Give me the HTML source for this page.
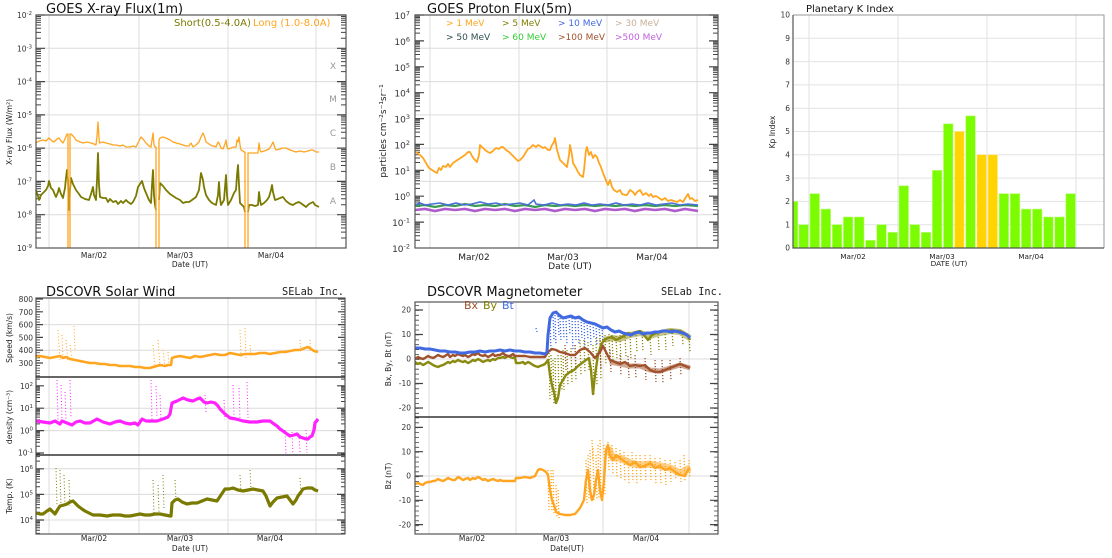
<!DOCTYPE html>
<html><head><meta charset="utf-8"><style>
html,body{margin:0;padding:0;background:#fff;}
svg{display:block;font-family:"DejaVu Sans","Liberation Sans",sans-serif;}
</style></head><body>
<svg width="1112" height="558" viewBox="0 0 1112 558" xmlns="http://www.w3.org/2000/svg">
<defs>
<g id="xd" stroke="#444" stroke-width="1"><path d="M36 -10h5M36 -15.9h5M36 -20h5M36 -23.3h5M36 -25.9h5M36 -28.1h5M36 -30.1h5M36 -31.8h5M346 -10h-5M346 -15.9h-5M346 -20h-5M346 -23.3h-5M346 -25.9h-5M346 -28.1h-5M346 -30.1h-5M346 -31.8h-5"/></g>
<g id="pd" stroke="#444" stroke-width="1"><path d="M415 -7.8h5M415 -12.3h5M415 -15.6h5M415 -18.1h5M415 -20.1h5M415 -21.9h5M415 -23.4h5M415 -24.7h5M718 -7.8h-5M718 -12.3h-5M718 -15.6h-5M718 -18.1h-5M718 -20.1h-5M718 -21.9h-5M718 -23.4h-5M718 -24.7h-5"/></g>
<g id="dd" stroke="#444" stroke-width="1"><path d="M36 -6.7h4M36 -10.7h4M36 -13.5h4M36 -15.7h4M36 -17.4h4M36 -18.9h4M36 -20.2h4M36 -21.4h4M345 -6.7h-4M345 -10.7h-4M345 -13.5h-4M345 -15.7h-4M345 -17.4h-4M345 -18.9h-4M345 -20.2h-4M345 -21.4h-4"/></g>
<g id="td" stroke="#444" stroke-width="1"><path d="M36 -7.7h4M36 -12.2h4M36 -15.4h4M36 -17.9h4M36 -19.9h4M36 -21.6h4M36 -23.1h4M36 -24.4h4M345 -7.7h-4M345 -12.2h-4M345 -15.4h-4M345 -17.9h-4M345 -19.9h-4M345 -21.6h-4M345 -23.1h-4M345 -24.4h-4"/></g>
<clipPath id="cpX"><rect x="36" y="15" width="310" height="233"/></clipPath>
<clipPath id="cpP"><rect x="415" y="15" width="303" height="233"/></clipPath>
<clipPath id="cpD"><rect x="36" y="377" width="309" height="78"/></clipPath>
<clipPath id="cpT"><rect x="36" y="455" width="309" height="79"/></clipPath>
</defs>

<!-- ================= GOES X-ray ================= -->
<g stroke="#dcdcdc" stroke-width="1" fill="none">
<path d="M49 15V248M139 15V248M228 15V248M316 15V248"/>
<path d="M36 48.3H346M36 81.6H346M36 114.9H346M36 148.1H346M36 181.4H346M36 214.7H346"/>
</g>
<g clip-path="url(#cpX)">
<use href="#xd" y="248"/><use href="#xd" y="214.7"/><use href="#xd" y="181.4"/><use href="#xd" y="148.1"/><use href="#xd" y="114.9"/><use href="#xd" y="81.6"/><use href="#xd" y="48.3"/>
</g>
<path d="M36 15h9M36 48.3h9M36 81.6h9M36 114.9h9M36 148.1h9M36 181.4h9M36 214.7h9M346 15h-9M346 48.3h-9M346 81.6h-9M346 114.9h-9M346 148.1h-9M346 181.4h-9M346 214.7h-9" stroke="#444" stroke-width="1.2"/>
<path fill="none" stroke="#7a7a00" stroke-width="1.8" stroke-linejoin="round" d="M36 190 L38 196 L39 200 L41 195 L44 192 L46 190 L48 186 L49 181 L51 188 L53 190 L55 195 L56 197 L58 192 L59 188 L61 194 L63 198 L65 188 L66 178 L67 170 L68 180 L69 210 L70 190 L71 178 L73 184 L76 190 L79 194 L81 197 L85 199 L89 200 L91 194 L93 187 L94 195 L96 200 L97 180 L98 153 L99 185 L100 197 L103 198 L106 198 L108 202 L110 199 L113 202 L116 201 L118 204 L121 201 L123 203 L126 200 L128 202 L131 204 L133 202 L136 196 L138 187 L140 184 L142 181 L144 188 L146 193 L149 200 L151 203 L152 185 L153 170 L154 195 L155 205 L156 210 M159 200 L160 183 L163 186 L166 190 L170 194 L173 196 L176 198 L180 200 L183 203 L186 202 L189 202 L192 200 L196 197 L199 190 L201 173 L203 180 L204 187 L206 195 L209 200 L212 203 L216 205 L218 195 L219 182 L220 198 L221 205 L224 200 L226 175 L227 195 L228 205 L231 200 L234 193 L236 190 L237 175 L238 165 L239 185 L240 203 L242 205 L244 207 L245 212 M248 212 L249 205 L252 205 L255 206 L258 205 L259 192 L260 200 L261 205 L264 203 L267 200 L269 197 L271 190 L272 185 L273 192 L275 200 L278 199 L280 198 L283 197 L286 201 L290 204 L293 205 L296 203 L299 202 L302 204 L306 207 L309 204 L311 203 L313 202 L315 205 L317 206 L319 207"/>
<path fill="none" stroke="#ffa520" stroke-width="1.3" stroke-linejoin="round" d="M36 143 L39 141 L43 140 L46 141 L49 138 L52 141 L54 142 L57 139 L59 138 L61 141 L63 143 L65 139 L67 134 L68 134 L68 248 M70 248 L70 134 L71 134 L74 137 L76 140 L80 142 L83 143 L87 142 L91 143 L94 144 L96 145 L97 136 L98 122 L99 138 L99.5 143 L103 142 L106 143 L110 144 L113 145 L116 145 L120 146 L123 145 L126 147 L130 147 L133 146 L136 147 L138 143 L141 137 L143 139 L146 143 L149 146 L151 147 L152 140 L153 133 L154 145 L155 147 L156 147 L156 248 M159 248 L159 140 L160 138 L163 137 L166 138 L170 140 L173 142 L176 143 L180 144 L183 145 L186 146 L189 146 L191 143 L193 147 L196 145 L199 142 L201 137 L203 133 L205 138 L206 142 L209 144 L212 146 L214 146 L216 147 L218 142 L219 143 L221 148 L223 149 L225 144 L226 140 L227 147 L228 149 L231 148 L234 147 L236 147 L237 140 L238 142 L239 137 L240 145 L241 150 L243 151 L244 152 L245 152 L245 248 M248 248 L248 153 L252 153 L255 153 L258 153 L259 143 L260 150 L261 152 L264 151 L267 150 L269 149 L271 146 L273 142 L275 148 L276 150 L280 149 L283 148 L286 148 L290 150 L293 151 L296 152 L300 151 L304 152 L308 151 L311 150 L313 150 L316 152 L319 152"/>
<rect x="36" y="15" width="310" height="233" fill="none" stroke="#555" stroke-width="1.2"/>
<text x="46" y="13" font-size="13" fill="#111">GOES X-ray Flux(1m)</text>
<text x="174" y="26" font-size="10" fill="#7a7a00">Short(0.5-4.0A)</text>
<text x="253" y="26" font-size="10" fill="#ffa520">Long (1.0-8.0A)</text>
<g font-size="9" fill="#999" text-anchor="middle">
<text x="333" y="69">X</text><text x="333" y="102">M</text><text x="333" y="136">C</text><text x="333" y="170">B</text><text x="333" y="204">A</text>
</g>
<g font-size="7.5" fill="#333" text-anchor="end">
<text x="32" y="18">10<tspan dy="-3" font-size="5.5">-2</tspan></text>
<text x="32" y="51.3">10<tspan dy="-3" font-size="5.5">-3</tspan></text>
<text x="32" y="84.6">10<tspan dy="-3" font-size="5.5">-4</tspan></text>
<text x="32" y="117.9">10<tspan dy="-3" font-size="5.5">-5</tspan></text>
<text x="32" y="151.1">10<tspan dy="-3" font-size="5.5">-6</tspan></text>
<text x="32" y="184.4">10<tspan dy="-3" font-size="5.5">-7</tspan></text>
<text x="32" y="217.7">10<tspan dy="-3" font-size="5.5">-8</tspan></text>
<text x="32" y="251">10<tspan dy="-3" font-size="5.5">-9</tspan></text>
</g>
<text transform="translate(12,132) rotate(-90)" font-size="7.5" fill="#222" text-anchor="middle">X-ray Flux (W/m²)</text>
<g font-size="7.5" fill="#222" text-anchor="middle">
<text x="94" y="258">Mar/02</text><text x="180" y="258">Mar/03</text><text x="271" y="258">Mar/04</text>
<text x="190" y="267">Date (UT)</text>
</g>

<!-- ================= GOES Proton ================= -->
<g stroke="#dcdcdc" stroke-width="1" fill="none">
<path d="M430 15V248M519 15V248M607 15V248M697 15V248"/>
<path d="M415 48.3H718M415 81.6H718M415 114.9H718M415 148.1H718M415 181.4H718M415 214.7H718"/>
</g>
<g clip-path="url(#cpP)">
<use href="#pd" y="248"/><use href="#pd" y="222.1"/><use href="#pd" y="196.2"/><use href="#pd" y="170.3"/><use href="#pd" y="144.4"/><use href="#pd" y="118.6"/><use href="#pd" y="92.7"/><use href="#pd" y="66.8"/><use href="#pd" y="40.9"/>
</g>
<path d="M415 15h9M415 40.9h9M415 66.8h9M415 92.7h9M415 118.6h9M415 144.4h9M415 170.3h9M415 196.2h9M415 222.1h9M718 15h-9M718 40.9h-9M718 66.8h-9M718 92.7h-9M718 118.6h-9M718 144.4h-9M718 170.3h-9M718 196.2h-9M718 222.1h-9" stroke="#444" stroke-width="1.2"/>
<path fill="none" stroke="#3b9b55" stroke-width="2.2" d="M415 206 L425 205 L435 207 L445 205 L455 206 L465 204 L475 206 L485 205 L495 206 L505 204 L515 206 L525 205 L535 207 L545 205 L555 206 L565 205 L575 206 L585 205 L595 206 L605 205 L615 206 L625 205 L635 206 L645 205 L655 206 L665 205 L675 206 L685 205 L698 206"/>
<path fill="none" stroke="#4a6fd8" stroke-width="1.6" d="M415 205 L420 203 L425 205 L432 204 L440 203 L448 205 L456 203 L464 205 L472 204 L480 202 L488 204 L496 203 L504 205 L512 204 L520 203 L528 205 L534 200 L536 204 L544 205 L552 203 L560 205 L568 204 L576 205 L584 203 L592 205 L600 204 L608 205 L616 203 L624 205 L632 204 L640 205 L648 203 L656 205 L664 204 L672 203 L680 205 L688 204 L698 205"/>
<path fill="none" stroke="#b05ccc" stroke-width="2.6" d="M415 210 L425 209 L435 211 L445 209 L455 210 L465 209 L475 211 L485 209 L495 210 L505 209 L515 211 L525 209 L535 210 L545 209 L555 211 L565 209 L575 210 L585 209 L595 211 L605 209 L615 210 L625 209 L635 211 L645 209 L655 210 L665 209 L675 211 L685 209 L698 211"/>
<path fill="none" stroke="#ffa520" stroke-width="1.8" stroke-linejoin="round" d="M415 151 L417 153 L420 155 L423 158 L426 163 L429 168 L432 170 L435 172 L437 173 L439 168 L441 170 L443 166 L446 167 L448 164 L450 167 L453 163 L456 161 L459 159 L462 157 L465 155 L468 152 L470 152 L472 156 L474 159 L477 162 L479 155 L480 145 L482 147 L485 150 L488 152 L490 153 L493 151 L496 148 L499 149 L501 147 L503 147 L506 150 L509 152 L512 155 L515 158 L518 161 L520 160 L523 157 L526 152 L528 149 L530 148 L533 145 L536 147 L538 145 L540 146 L543 148 L545 147 L548 150 L550 150 L552 145 L554 142 L555 138 L557 150 L560 160 L563 163 L565 165 L567 167 L569 155 L570 145 L572 155 L573 163 L576 168 L578 172 L580 175 L583 177 L584 170 L586 150 L587 147 L589 155 L591 152 L593 158 L595 155 L597 157 L599 163 L601 167 L603 173 L605 178 L607 183 L608 185 L610 180 L612 187 L614 190 L617 192 L620 190 L622 194 L625 195 L627 195 L630 190 L633 192 L635 195 L637 192 L640 190 L643 195 L646 193 L649 196 L651 194 L653 197 L656 196 L659 198 L662 200 L665 198 L668 201 L671 200 L674 201 L677 202 L680 200 L683 202 L686 197 L688 194 L690 199 L692 198 L695 201 L698 200"/>
<rect x="415" y="15" width="303" height="233" fill="none" stroke="#555" stroke-width="1.2"/>
<text x="427" y="13" font-size="13" fill="#111">GOES Proton Flux(5m)</text>
<g font-size="9" xml:space="preserve">
<text x="446" y="26" fill="#ffa520">&gt;  1 MeV</text>
<text x="502" y="26" fill="#808000">&gt;  5 MeV</text>
<text x="558" y="26" fill="#4169e1">&gt; 10 MeV</text>
<text x="615" y="26" fill="#c8b09a">&gt; 30 MeV</text>
<text x="446" y="40" fill="#2f4f4f">&gt; 50 MeV</text>
<text x="502" y="40" fill="#32cd32">&gt; 60 MeV</text>
<text x="558" y="40" fill="#a0522d">&gt;100 MeV</text>
<text x="615" y="40" fill="#c060d8">&gt;500 MeV</text>
</g>
<g font-size="9" fill="#333" text-anchor="end">
<text x="410" y="19">10<tspan dy="-3.5" font-size="6.5">7</tspan></text>
<text x="410" y="44.9">10<tspan dy="-3.5" font-size="6.5">6</tspan></text>
<text x="410" y="70.8">10<tspan dy="-3.5" font-size="6.5">5</tspan></text>
<text x="410" y="96.7">10<tspan dy="-3.5" font-size="6.5">4</tspan></text>
<text x="410" y="122.6">10<tspan dy="-3.5" font-size="6.5">3</tspan></text>
<text x="410" y="148.4">10<tspan dy="-3.5" font-size="6.5">2</tspan></text>
<text x="410" y="174.3">10<tspan dy="-3.5" font-size="6.5">1</tspan></text>
<text x="410" y="200.2">10<tspan dy="-3.5" font-size="6.5">0</tspan></text>
<text x="410" y="226.1">10<tspan dy="-3.5" font-size="6.5">-1</tspan></text>
<text x="410" y="252">10<tspan dy="-3.5" font-size="6.5">-2</tspan></text>
</g>
<text transform="translate(386,131) rotate(-90)" font-size="9" fill="#222" text-anchor="middle">particles cm⁻²s⁻¹sr⁻¹</text>
<g font-size="9" fill="#222" text-anchor="middle">
<text x="474" y="260">Mar/02</text><text x="563" y="260">Mar/03</text><text x="652" y="260">Mar/04</text>
<text x="570" y="269">Date (UT)</text>
</g>

<!-- ================= Kp ================= -->
<g stroke="#e2e2e2" stroke-width="1" fill="none">
<path d="M809 15V248M898 15V248M987 15V248M1076 15V248"/>
<path d="M793 38.3H1104M793 61.6H1104M793 84.9H1104M793 108.2H1104M793 131.5H1104M793 154.8H1104M793 178.1H1104M793 201.4H1104M793 224.7H1104"/>
</g>
<g fill="#7cfc00" stroke="#b8ff70" stroke-width="0.6">
<rect x="793" y="201.4" width="4.75" height="46.6"/>
<rect x="798.9" y="224.7" width="9.5" height="23.3"/>
<rect x="810" y="193.7" width="9.5" height="54.3"/>
<rect x="821.1" y="209.1" width="9.5" height="38.9"/>
<rect x="832.3" y="224.7" width="9.5" height="23.3"/>
<rect x="843.4" y="217" width="9.5" height="31"/>
<rect x="854.5" y="217" width="9.5" height="31"/>
<rect x="865.6" y="240.3" width="9.5" height="7.7"/>
<rect x="876.8" y="224.7" width="9.5" height="23.3"/>
<rect x="887.9" y="232.4" width="9.5" height="15.6"/>
<rect x="899" y="185.8" width="9.5" height="62.2"/>
<rect x="910.1" y="224.7" width="9.5" height="23.3"/>
<rect x="921.3" y="232.4" width="9.5" height="15.6"/>
<rect x="932.4" y="170.4" width="9.5" height="77.6"/>
<rect x="943.5" y="123.8" width="9.5" height="124.2"/>
<rect x="965.8" y="115.9" width="9.5" height="132.1"/>
<rect x="999.1" y="193.7" width="9.5" height="54.3"/>
<rect x="1010.3" y="193.7" width="9.5" height="54.3"/>
<rect x="1021.4" y="209.1" width="9.5" height="38.9"/>
<rect x="1032.5" y="209.1" width="9.5" height="38.9"/>
<rect x="1043.6" y="217" width="9.5" height="31"/>
<rect x="1054.8" y="217" width="9.5" height="31"/>
<rect x="1065.9" y="193.7" width="9.5" height="54.3"/>
</g>
<g fill="#ffd400" stroke="#ffe680" stroke-width="0.6">
<rect x="954.6" y="131.5" width="9.5" height="116.5"/>
<rect x="976.9" y="154.8" width="9.5" height="93.2"/>
<rect x="988" y="154.8" width="9.5" height="93.2"/>
</g>
<path d="M793 15H1104V248" fill="none" stroke="#999" stroke-width="1"/>
<path d="M793 15V248H1104" fill="none" stroke="#555" stroke-width="1.2"/>
<text x="806" y="12" font-size="10" fill="#111">Planetary K Index</text>
<g font-size="7.5" fill="#333" text-anchor="end">
<text x="790" y="250.7">0</text><text x="790" y="227.4">1</text><text x="790" y="204.1">2</text><text x="790" y="180.8">3</text><text x="790" y="157.5">4</text><text x="790" y="134.2">5</text><text x="790" y="110.9">6</text><text x="790" y="87.6">7</text><text x="790" y="64.3">8</text><text x="790" y="41">9</text><text x="790" y="17.7">10</text>
</g>
<text transform="translate(775,132) rotate(-90)" font-size="7.5" fill="#222" text-anchor="middle">Kp Index</text>
<g font-size="7.3" fill="#222" text-anchor="middle">
<text x="853" y="259">Mar/02</text><text x="942" y="259">Mar/03</text><text x="1031" y="259">Mar/04</text>
<text x="949" y="266">DATE (UT)</text>
</g>

<!-- ================= DSCOVR Solar Wind ================= -->
<g stroke="#dcdcdc" stroke-width="1" fill="none">
<path d="M49 298V534M139 298V534M228 298V534M316 298V534"/>
<path d="M36 324.6H345M36 350.2H345M36 408.2H345M36 430.6H345M36 468.8H345M36 494.4H345M36 520H345"/>
</g>
<path d="M38 298.6V377M343 298.6V377" stroke="#444" stroke-width="4" stroke-dasharray="0.8 1.76"/>
<path d="M36 299h7M36 311.8h7M36 324.6h7M36 337.4h7M36 350.2h7M36 363h7M345 299h-7M345 311.8h-7M345 324.6h-7M345 337.4h-7M345 350.2h-7M345 363h-7" stroke="#444" stroke-width="1.2"/>
<g clip-path="url(#cpD)"><use href="#dd" y="475.4"/><use href="#dd" y="453"/><use href="#dd" y="430.6"/><use href="#dd" y="408.2"/><use href="#dd" y="385.8"/></g>
<g clip-path="url(#cpT)"><use href="#td" y="545.6"/><use href="#td" y="520"/><use href="#td" y="494.4"/><use href="#td" y="468.8"/></g>
<path d="M36 453h8M36 430.6h8M36 408.2h8M36 385.8h8M36 468.8h8M36 494.4h8M36 520h8M345 453h-8M345 430.6h-8M345 408.2h-8M345 385.8h-8M345 468.8h-8M345 494.4h-8M345 520h-8" stroke="#444" stroke-width="1.2"/>
<path fill="none" stroke="#ffa520" stroke-width="1" stroke-dasharray="1 2.2" d="M58 330 L60 360 M62 335 L63 358 M66 340 L68 362 M70 345 L72 360 M74 326 L75 350 M153 345 L155 366 M158 340 L160 368 M163 350 L165 368 M168 352 L169 368 M240 330 L241 358 M245 328 L246 360 M250 345 L251 358 M300 340 L301 352 M310 340 L311 352"/>
<path fill="none" stroke="#ffa520" stroke-width="2.6" stroke-linejoin="round" d="M36 357 L40 356 L45 357 L50 358 L55 357 L60 356 L63 358 L66 357 L70 359 L75 360 L80 361 L85 362 L90 363 L95 363 L100 364 L105 364 L110 365 L115 365 L120 366 L125 366 L130 366 L135 367 L140 367 L145 368 L150 368 L153 367 L157 366 L160 365 L165 366 L168 365 L171 365 L172 358 L175 357 L180 356 L185 357 L190 358 L195 356 L200 357 L205 356 L210 355 L215 354 L220 355 L225 355 L230 353 L235 354 L240 355 L245 354 L250 354 L255 354 L260 353 L265 353 L270 354 L275 353 L280 352 L285 352 L290 351 L295 350 L300 350 L305 348 L308 347 L311 349 L314 351 L318 352"/>
<path fill="none" stroke="#ff22ff" stroke-width="1" stroke-dasharray="1 2.2" d="M57 380 L58 420 M61 385 L62 422 M65 392 L66 420 M70 380 L71 418 M151 380 L152 420 M156 386 L157 418 M160 395 L161 420 M233 385 L234 415 M239 388 L240 420 M247 382 L248 418 M285 430 L286 455 M292 432 L293 455 M299 435 L300 452 M306 430 L307 453 M224 400 L225 418 M205 395 L206 412"/>
<path fill="none" stroke="#ff22ff" stroke-width="3.2" stroke-linejoin="round" d="M36 421 L43 422 L50 423 L55 421 L60 424 L62 421 L67 423 L72 425 L76 422 L80 421 L85 423 L90 423 L97 419 L103 422 L110 424 L115 422 L120 421 L125 423 L130 424 L135 423 L138 425 L142 419 L146 421 L150 421 L157 421 L163 419 L168 417 L170 414 L172 403 L177 401 L183 398 L188 400 L193 401 L197 399 L200 398 L204 402 L207 403 L211 402 L215 403 L218 406 L220 409 L225 414 L230 418 L236 419 L243 421 L250 422 L257 422 L263 421 L270 421 L274 424 L277 426 L280 429 L283 431 L287 434 L290 436 L294 435 L297 434 L300 437 L303 438 L306 439 L308 439 L310 437 L312 436 L314 430 L315 423 L318 419"/>
<path fill="none" stroke="#7a7a00" stroke-width="1" stroke-dasharray="1 2.2" d="M56 468 L57 505 M60 470 L61 508 M64 475 L65 506 M69 480 L70 506 M153 480 L154 515 M158 485 L159 512 M163 475 L164 510 M175 480 L176 500 M240 475 L241 492 M250 470 L251 490 M300 478 L301 495"/>
<path fill="none" stroke="#7a7a00" stroke-width="3.2" stroke-linejoin="round" d="M36 513 L40 514 L43 514 L47 511 L50 509 L53 512 L55 514 L58 509 L60 506 L64 505 L67 504 L70 502 L73 501 L76 504 L78 506 L82 509 L85 511 L89 513 L93 515 L100 515 L107 516 L113 515 L120 515 L125 516 L130 516 L135 515 L140 514 L145 515 L150 515 L155 514 L160 514 L165 515 L170 516 L171 516 L172 503 L175 500 L178 499 L182 502 L187 504 L192 503 L197 503 L202 501 L207 499 L212 500 L217 501 L221 495 L225 489 L229 489 L233 488 L238 490 L243 491 L248 490 L253 489 L258 490 L263 491 L266 496 L270 506 L273 502 L277 498 L282 497 L287 496 L290 500 L293 504 L296 500 L298 496 L301 492 L303 489 L307 488 L312 488 L315 490 L318 491"/>
<rect x="36" y="298" width="309" height="236" fill="none" stroke="#555" stroke-width="1.2"/>
<path d="M36 377H345M36 455H345" stroke="#333" stroke-width="1.5"/>
<text x="46" y="296" font-size="13" fill="#111">DSCOVR Solar Wind</text>
<text x="282" y="295" font-size="10.3" fill="#222" font-family="'DejaVu Sans Mono','Liberation Mono',monospace">SELab Inc.</text>
<g font-size="7.5" fill="#333" text-anchor="end">
<text x="33" y="302">800</text><text x="33" y="314.8">700</text><text x="33" y="327.6">600</text><text x="33" y="340.4">500</text><text x="33" y="353.2">400</text><text x="33" y="366">300</text>
<text x="33" y="388.8">10<tspan dy="-3" font-size="5.5">2</tspan></text>
<text x="33" y="411.2">10<tspan dy="-3" font-size="5.5">1</tspan></text>
<text x="33" y="433.6">10<tspan dy="-3" font-size="5.5">0</tspan></text>
<text x="33" y="455.5">10<tspan dy="-3" font-size="5.5">-1</tspan></text>
<text x="33" y="471.8">10<tspan dy="-3" font-size="5.5">6</tspan></text>
<text x="33" y="497.4">10<tspan dy="-3" font-size="5.5">5</tspan></text>
<text x="33" y="523">10<tspan dy="-3" font-size="5.5">4</tspan></text>
</g>
<g font-size="7.5" fill="#222" text-anchor="middle">
<text transform="translate(12,338) rotate(-90)">Speed (km/s)</text>
<text transform="translate(12,417) rotate(-90)">density (cm⁻³)</text>
<text transform="translate(12,496) rotate(-90)">Temp. (K)</text>
<text x="94" y="541">Mar/02</text><text x="180" y="541">Mar/03</text><text x="270" y="541">Mar/04</text>
<text x="190" y="551">Date (UT)</text>
</g>

<!-- ================= DSCOVR Magnetometer ================= -->
<g stroke="#dcdcdc" stroke-width="1" fill="none">
<path d="M429 302V534M516 302V534M603 302V534M689 302V534"/>
<path d="M415 359H718M415 476H718"/>
</g>
<path d="M417 305.1V417M716 305.1V417M417 417.5V534M716 417.5V534" stroke="#444" stroke-width="4" stroke-dasharray="0.8 4.1"/>
<path d="M415 310h8M415 334.5h8M415 359h8M415 383.5h8M415 408h8M415 427.4h8M415 451.7h8M415 476h8M415 500.3h8M415 524.6h8M718 310h-8M718 334.5h-8M718 359h-8M718 383.5h-8M718 408h-8M718 427.4h-8M718 451.7h-8M718 476h-8M718 500.3h-8M718 524.6h-8" stroke="#444" stroke-width="1.2"/>
<!-- scatter clouds -->
<path fill="none" stroke="#4169e1" stroke-width="1.3" stroke-dasharray="1.2 1.8" d="M550 318 L551 350 M553 314 L554 340 M555 315 L556 345 M558 316 L559 335 M560 318 L561 340 M563 318 L564 338 M566 318 L567 345 M569 317 L570 335 M572 318 L573 350 M575 318 L576 340 M578 318 L579 345 M581 319 L582 338 M584 320 L585 350 M587 322 L588 340 M590 323 L591 345 M593 324 L594 338 M596 325 L597 345 M599 326 L600 340 M602 327 L603 345 M536 328 L537 332"/>
<path fill="none" stroke="#8a8a10" stroke-width="1.3" stroke-dasharray="1.2 1.8" d="M549 350 L550 400 M551 355 L552 395 M553 360 L554 405 M555 358 L556 400 M558 355 L559 395 M561 352 L562 390 M563 350 L564 390 M567 350 L568 385 M571 348 L572 382 M575 345 L576 380 M580 340 L581 375 M584 340 L585 372 M588 342 L589 370 M593 345 L594 395 M596 338 L597 385 M600 335 L601 380 M605 335 L606 365 M609 334 L610 362 M612 335 L613 360 M616 336 L617 360 M620 335 L621 362 M625 334 L626 358 M630 333 L631 360 M636 332 L637 352 M642 331 L643 352 M650 333 L651 355 M658 331 L659 350 M665 331 L666 350 M672 330 L673 346 M682 331 L683 345 M689 335 L690 352"/>
<path fill="none" stroke="#a0522d" stroke-width="1.3" stroke-dasharray="1.2 1.8" d="M600 340 L601 370 M610 350 L611 372 M620 355 L621 375 M628 356 L629 378 M635 355 L636 378 M645 358 L646 380 M655 360 L656 382 M662 360 L663 383 M670 360 L671 380 M680 358 L681 375 M565 345 L566 370 M575 345 L576 368"/>
<path fill="none" stroke="#ffa520" stroke-width="1.3" stroke-dasharray="1.2 1.8" d="M548 470 L549 510 M551 470 L552 512 M553 470 L554 515 M556 485 L557 518 M558 490 L559 518 M586 460 L587 505 M588 455 L589 500 M590 450 L591 500 M593 448 L594 500 M596 455 L597 500 M598 445 L599 498 M600 440 L601 495 M604 445 L605 495 M608 442 L609 470 M612 445 L613 475 M616 448 L617 478 M620 450 L621 480 M624 452 L625 482 M628 455 L629 485 M632 452 L633 480 M636 455 L637 485 M640 455 L641 482 M645 455 L646 482 M650 455 L651 480 M655 458 L656 485 M660 458 L661 484 M665 460 L666 485 M670 460 L671 482 M675 462 L676 480 M680 460 L681 482 M684 455 L685 482 M689 460 L690 478 M592 440 L593 460"/>
<!-- bands -->
<path fill="none" stroke="#ffa520" stroke-width="7" stroke-opacity="0.55" stroke-linejoin="round" d="M608 448 L613 458 L620 458 L630 463 L640 465 L650 464 L660 466 L670 468 L680 473 L690 468"/>
<path fill="none" stroke="#8a8a10" stroke-width="6" stroke-opacity="0.5" stroke-linejoin="round" d="M604 340 L612 338 L620 339 L630 335 L640 333 L650 336 L660 333 L670 331 L680 332 L690 338"/>
<path fill="none" stroke="#a0522d" stroke-width="5" stroke-opacity="0.5" stroke-linejoin="round" d="M610 362 L620 364 L630 366 L640 366 L650 370 L660 371 L670 368 L680 365 L690 368"/>
<!-- lines -->
<path fill="none" stroke="#8a8a10" stroke-width="2.4" stroke-linejoin="round" d="M415 362 L418 364 L420 363 L423 365 L425 364 L428 362 L430 363 L433 365 L435 366 L438 367 L440 366 L443 365 L445 364 L448 362 L450 363 L453 361 L455 362 L458 360 L460 361 L463 362 L465 361 L468 363 L470 362 L473 360 L475 361 L478 359 L480 360 L483 362 L485 361 L488 360 L490 361 L493 359 L495 360 L498 358 L500 358 L503 357 L505 358 L508 356 L510 357 L513 358 L515 357 L516 363 L520 363 L523 362 L525 364 L528 362 L530 363 L533 365 L535 366 L538 367 L540 366 L543 365 L545 364 L548 360 L550 375 L552 385 L554 392 L556 403 L558 398 L560 385 L563 380 L566 375 L570 372 L574 370 L578 366 L582 363 L586 360 L589 358 L591 370 L593 394 L595 375 L598 355 L601 345 L604 340 L608 338 L612 337 L616 340 L620 338 L624 336 L628 333 L632 334 L636 332 L640 331 L644 335 L648 340 L652 335 L656 333 L660 332 L664 331 L668 331 L672 330 L676 331 L680 331 L684 333 L688 336 L690 340"/>
<path fill="none" stroke="#a0522d" stroke-width="2.4" stroke-linejoin="round" d="M415 359 L418 357 L420 358 L423 359 L425 358 L428 356 L430 357 L433 358 L435 357 L438 355 L440 356 L443 357 L445 356 L448 354 L450 357 L453 355 L455 356 L458 354 L460 355 L463 356 L465 355 L468 357 L470 356 L473 354 L475 355 L478 353 L480 355 L483 356 L485 355 L488 357 L490 356 L493 354 L495 356 L498 355 L500 355 L503 353 L505 355 L508 356 L510 356 L513 354 L515 356 L520 356 L525 356 L530 357 L535 357 L540 357 L545 357 L548 352 L552 349 L556 350 L560 352 L565 353 L570 355 L575 355 L580 350 L585 348 L590 352 L595 358 L600 352 L603 346 L606 352 L610 360 L615 362 L620 364 L625 362 L630 366 L635 365 L640 366 L645 365 L650 370 L655 372 L660 372 L665 370 L670 368 L675 366 L680 364 L685 366 L690 368"/>
<path fill="none" stroke="#4169e1" stroke-width="3" stroke-linejoin="round" d="M415 348 L420 348 L425 349 L430 349 L435 350 L440 351 L445 351 L450 352 L455 352 L460 353 L465 353 L470 352 L475 352 L480 351 L485 352 L490 351 L495 351 L500 350 L505 351 L510 350 L515 351 L520 351 L525 352 L530 352 L535 353 L540 353 L545 354 L547 352 L548 335 L550 318 L553 313 L556 312 L559 315 L563 318 L567 317 L571 316 L575 318 L579 317 L583 320 L587 322 L591 323 L595 324 L599 326 L603 328 L607 327 L611 330 L615 332 L619 331 L623 333 L627 334 L631 335 L635 333 L639 332 L643 334 L647 333 L651 333 L655 332 L659 332 L663 331 L667 331 L671 332 L675 331 L679 332 L683 333 L687 335 L690 338"/>
<path fill="none" stroke="#ffa520" stroke-width="2.4" stroke-linejoin="round" d="M415 484 L418 483 L420 484 L423 485 L425 483 L428 482 L430 482 L433 481 L435 481 L438 479 L440 480 L443 481 L445 480 L448 478 L450 479 L453 480 L455 480 L458 477 L460 478 L463 480 L465 479 L468 478 L470 480 L473 478 L475 479 L478 477 L480 478 L483 480 L485 479 L488 481 L490 480 L493 479 L495 480 L498 481 L500 480 L503 481 L505 481 L510 481 L515 481 L516 478 L520 478 L525 477 L530 478 L535 476 L538 470 L540 469 L543 470 L546 472 L548 475 L550 490 L552 500 L554 505 L556 512 L560 514 L565 515 L570 515 L575 514 L580 508 L584 500 L586 480 L588 470 L590 490 L592 500 L594 495 L596 480 L598 470 L600 490 L602 500 L604 480 L606 450 L608 445 L610 455 L613 460 L616 455 L620 458 L625 462 L630 465 L635 462 L640 467 L645 466 L650 463 L655 468 L660 466 L665 470 L670 468 L675 472 L680 475 L685 476 L688 470 L690 468"/>
<rect x="415" y="302" width="303" height="232" fill="none" stroke="#555" stroke-width="1.2"/>
<path d="M415 417H718" stroke="#333" stroke-width="1.5"/>
<text x="427" y="296" font-size="13" fill="#111">DSCOVR Magnetometer</text>
<text x="661" y="295" font-size="10.3" fill="#222" font-family="'DejaVu Sans Mono','Liberation Mono',monospace">SELab Inc.</text>
<g font-size="11">
<text x="464" y="309" fill="#a0522d">Bx</text><text x="483" y="309" fill="#808000">By</text><text x="502" y="309" fill="#4169e1">Bt</text>
</g>
<g font-size="7.5" fill="#333" text-anchor="end">
<text x="411" y="312.7">20</text><text x="411" y="337.2">10</text><text x="411" y="361.7">0</text><text x="411" y="386.2">-10</text><text x="411" y="410.7">-20</text>
<text x="411" y="430.1">20</text><text x="411" y="454.4">10</text><text x="411" y="478.7">0</text><text x="411" y="503">-10</text><text x="411" y="527.3">-20</text>
</g>
<g font-size="7.5" fill="#222" text-anchor="middle">
<text transform="translate(391,359) rotate(-90)">Bx, By, Bt (nT)</text>
<text transform="translate(391,476) rotate(-90)">Bz (nT)</text>
<text x="472" y="541">Mar/02</text><text x="556" y="541">Mar/03</text><text x="646" y="541">Mar/04</text>
<text x="567" y="551">Date(UT)</text>
</g>
</svg>
</body></html>
